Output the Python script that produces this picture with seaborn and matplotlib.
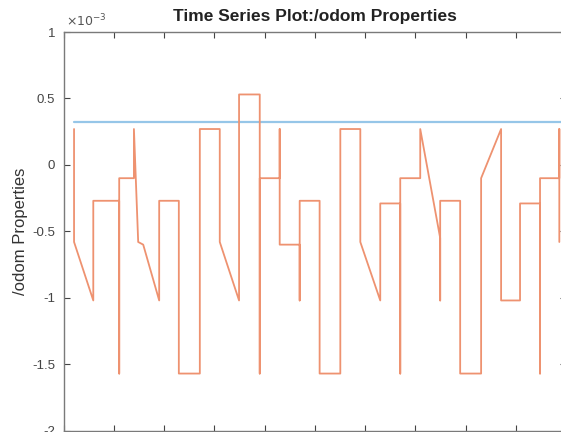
import numpy as np
import pandas as pd
import matplotlib
matplotlib.use('Agg')
import matplotlib.pyplot as plt
from matplotlib.ticker import FuncFormatter
import seaborn as sns

# /odom property trace (x in tick units, y in units of 1e-3)
odom_t = [0.206, 0.206, 0.589, 0.589, 1.105, 1.105, 1.105, 1.398, 1.398, 1.483,
          1.583, 1.901, 1.901, 2.292, 2.292, 2.710, 2.710, 3.107, 3.107, 3.491,
          3.491, 3.903, 3.903, 3.903, 4.300, 4.300, 4.300, 4.698, 4.698, 4.698,
          5.095, 5.095, 5.507, 5.507, 5.905, 5.905, 6.302, 6.302, 6.700, 6.700,
          6.700, 7.098, 7.098, 7.495, 7.495, 7.495, 7.893, 7.893, 8.310, 8.310,
          8.708, 8.708, 9.085, 9.085, 9.483, 9.483, 9.483, 9.867, 9.867, 9.867]
odom_v = [0.27, -0.58, -1.02, -0.27, -0.27, -1.57, -0.10, -0.10, 0.27, -0.58,
          -0.60, -1.02, -0.27, -0.27, -1.57, -1.57, 0.27, 0.27, -0.58, -1.02,
          0.53, 0.53, -1.57, -0.10, -0.10, 0.27, -0.60, -0.60, -1.02, -0.27,
          -0.27, -1.57, -1.57, 0.27, 0.27, -0.58, -1.02, -0.29, -0.29, -1.57,
          -0.10, -0.10, 0.27, -0.55, -1.02, -0.27, -0.27, -1.57, -1.57, -0.10,
          0.27, -1.02, -1.02, -0.29, -0.29, -1.57, -0.10, -0.10, 0.27, -0.58]

# constant reference series
ref_t = [0.206, 10.0]
ref_v = [0.32, 0.32]

x_ticks = list(range(0, 11))
y_ticks = [-2, -1.5, -1, -0.5, 0, 0.5, 1]

sns.set_theme(style='white')
plt.rcParams['font.family'] = ['Liberation Sans', 'DejaVu Sans']

fig = plt.figure(figsize=(5.61, 4.32), dpi=100)
# axes runs slightly past the right/bottom edge, like the cropped original
ax = fig.add_axes([63.7 / 561, 1.3 / 432, (566 - 63.7) / 561, (430.7 - 32) / 432])

odom = pd.DataFrame({'t': odom_t, 'v': odom_v})
ref = pd.DataFrame({'t': ref_t, 'v': ref_v})

sns.lineplot(data=ref, x='t', y='v', sort=False, estimator=None,
             color='#96C6E8', linewidth=1.6, ax=ax)
sns.lineplot(data=odom, x='t', y='v', sort=False, estimator=None,
             color='#EE9270', linewidth=1.3, ax=ax)

ax.set_xlim(0, 10)
ax.set_ylim(-2, 1)
ax.set_xticks(x_ticks)
ax.set_yticks(y_ticks)
ax.yaxis.set_major_formatter(FuncFormatter(lambda v, p: f'{v:g}'))
ax.set_xlabel('')
ax.set_ylabel('/odom Properties', fontsize=12, color='#333333', labelpad=3)
ax.set_title('Time Series Plot:/odom Properties', fontsize=12.5,
             fontweight='bold', color='#222222', pad=8)

for s in ax.spines.values():
    s.set_color('#7a7a7a')
    s.set_linewidth(1.0)
ax.tick_params(direction='in', length=4, width=0.8, colors='#444444',
               labelsize=9.5, top=True, right=True, left=True, bottom=True)
ax.tick_params(axis='y', pad=6)

ax.text(0.005, 1.008, r'$\times 10^{-3}$', transform=ax.transAxes,
        fontsize=9, color='#555555', ha='left', va='bottom')

fig.savefig('out.png', dpi=100)
